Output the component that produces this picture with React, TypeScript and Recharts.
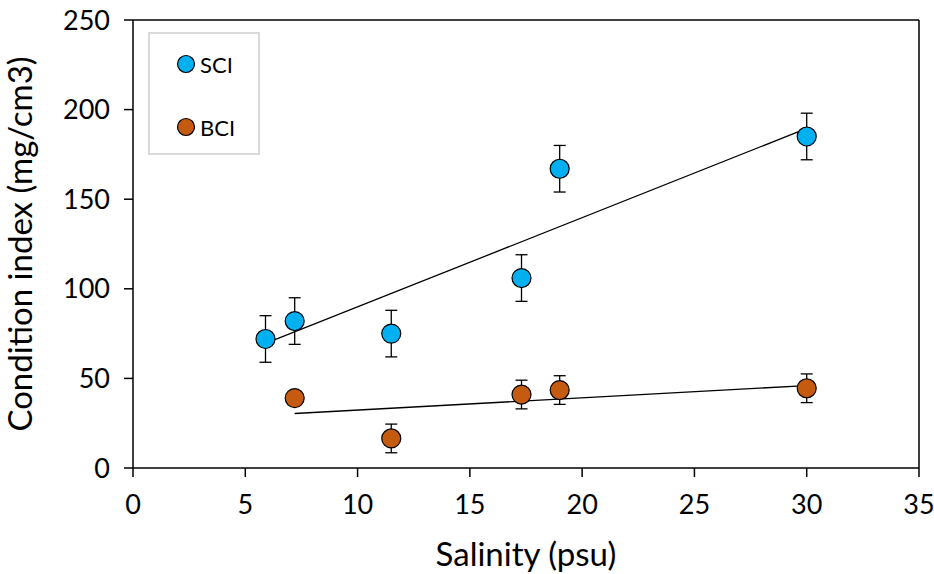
import React from "react";
import {
  ComposedChart,
  ErrorBar,
  Label,
  ReferenceLine,
  Scatter,
  XAxis,
  YAxis,
} from "recharts";

const salinitySCI = [5.9, 7.2, 11.5, 17.3, 19, 30];
const valuesSCI = [72, 82, 75, 106, 167, 185];
const errSCI = [13, 13, 13, 13, 13, 13];

const salinityBCI = [7.2, 11.5, 17.3, 19, 30];
const valuesBCI = [39, 16.5, 41, 43.5, 44.5];
const errBCI = [3, 8, 8, 8, 8];

// trend line end points [x, y]
const trendSCI = [
  [5.9, 69.5],
  [30, 189.5],
];
const trendBCI = [
  [7.2, 30.4],
  [30, 46],
];

const xTicks = [0, 5, 10, 15, 20, 25, 30, 35];
const yTicks = [0, 50, 100, 150, 200, 250];

const FONT = "Lato, 'Open Sans', sans-serif";
const SCI_COLOR = "#00B0F0";
const BCI_COLOR = "#C55A11";

const sciData = salinitySCI.map((x, i) => ({ x, y: valuesSCI[i], err: errSCI[i] }));
const bciData = salinityBCI.map((x, i) => ({ x, y: valuesBCI[i], err: errBCI[i] }));

const dot = (fill: string) => (props: any) => (
  <circle cx={props.cx} cy={props.cy} r={9.5} fill={fill} stroke="#000" strokeWidth={1.2} />
);

function LegendBox() {
  const item = (color: string, text: string) => (
    <div style={{ display: "flex", alignItems: "center", height: 30 }}>
      <svg width={20} height={20} style={{ marginRight: 4 }}>
        <circle cx={10} cy={10} r={8.5} fill={color} stroke="#000" strokeWidth={1.2} />
      </svg>
      <span style={{ fontFamily: FONT, fontSize: 22, color: "#000" }}>{text}</span>
    </div>
  );
  return (
    <div
      style={{
        position: "absolute",
        left: 148,
        top: 32,
        width: 112,
        height: 123,
        border: "2px solid #d9d9d9",
        background: "#fff",
        boxSizing: "border-box",
        padding: "15px 0 0 26px",
        display: "flex",
        flexDirection: "column",
        gap: 33,
      }}
    >
      {item(SCI_COLOR, "SCI")}
      {item(BCI_COLOR, "BCI")}
    </div>
  );
}

export default function App() {
  return (
    <div style={{ position: "relative", width: 934, height: 574, background: "#fff" }}>
      <style>{`body{margin:0}`}</style>
      <ComposedChart
        width={934}
        height={574}
        margin={{ top: 20, right: 15, bottom: 0, left: 0 }}
      >
        <XAxis
          type="number"
          dataKey="x"
          domain={[0, 35]}
          ticks={xTicks}
          height={106}
          stroke="#000"
          strokeWidth={1.5}
          tickSize={9}
          tickMargin={18}
          tick={{ fill: "#000", fontSize: 27, fontFamily: FONT }}
        >
          <Label
            value="Salinity (psu)"
            position="insideBottom"
            offset={8}
            style={{ fill: "#000", fontSize: 33, fontFamily: FONT }}
          />
        </XAxis>
        <YAxis
          type="number"
          dataKey="y"
          domain={[0, 250]}
          ticks={yTicks}
          width={133}
          stroke="#000"
          strokeWidth={1.5}
          tickSize={9}
          tickMargin={14}
          tick={{ fill: "#000", fontSize: 27, fontFamily: FONT }}
        >
          <Label
            value="Condition index (mg/cm3)"
            angle={-90}
            position="insideLeft"
            offset={20}
            style={{ textAnchor: "middle", fill: "#000", fontSize: 33, fontFamily: FONT }}
          />
        </YAxis>
        <ReferenceLine y={250} stroke="#000" strokeWidth={1.5} />
        <ReferenceLine x={35} stroke="#000" strokeWidth={1.5} />
        <ReferenceLine
          segment={trendSCI.map(([x, y]) => ({ x, y }))}
          stroke="#000"
          strokeWidth={1.3}
        />
        <ReferenceLine
          segment={trendBCI.map(([x, y]) => ({ x, y }))}
          stroke="#000"
          strokeWidth={1.3}
        />
        <Scatter
          name="SCI"
          data={sciData}
          fill={SCI_COLOR}
          shape={dot(SCI_COLOR)}
          isAnimationActive={false}
        >
          <ErrorBar dataKey="err" direction="y" width={6} stroke="#000" strokeWidth={1.3} />
        </Scatter>
        <Scatter
          name="BCI"
          data={bciData}
          fill={BCI_COLOR}
          shape={dot(BCI_COLOR)}
          isAnimationActive={false}
        >
          <ErrorBar dataKey="err" direction="y" width={6} stroke="#000" strokeWidth={1.3} />
        </Scatter>
      </ComposedChart>
      <LegendBox />
    </div>
  );
}
